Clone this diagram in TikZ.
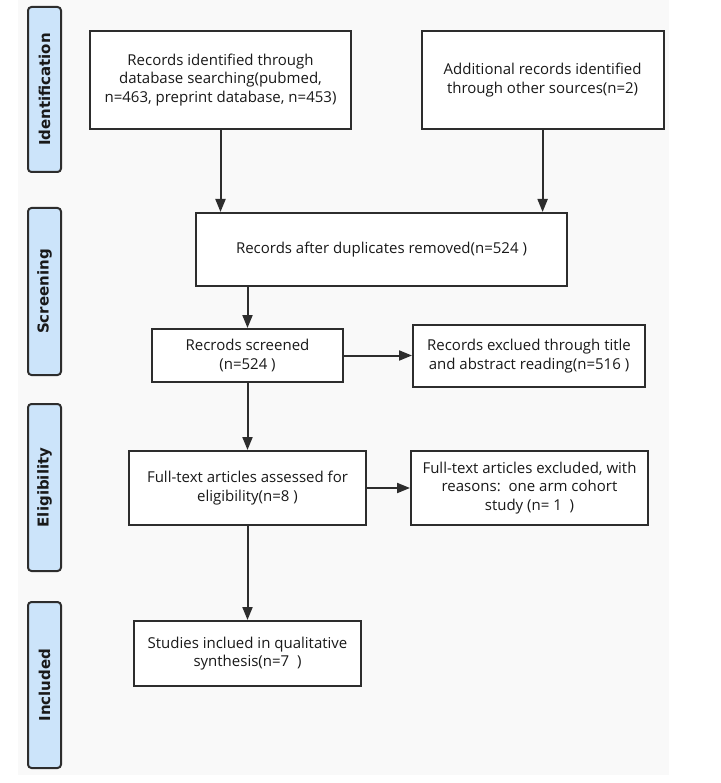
\documentclass[tikz,border=0pt]{standalone}
\usepackage{fontspec}
\setmainfont{Open Sans}
\newfontfamily\labfont{DejaVu Sans}
\usetikzlibrary{arrows.meta}
\definecolor{bg}{RGB}{249,249,249}
\definecolor{lc}{RGB}{45,45,45}
\definecolor{tc}{RGB}{25,25,25}
\definecolor{lab}{RGB}{204,228,250}
\begin{document}
\begin{tikzpicture}[x=1pt,y=-1pt,
 box/.style={draw=lc, line width=2pt, fill=white, align=center, font=\fontsize{15}{18.5}\selectfont, inner sep=0pt, text=tc},
 stage/.style={draw=lc, line width=2pt, fill=lab, rounded corners=3.5pt, minimum height=33pt, inner sep=0pt, rotate=90, font=\labfont\bfseries\fontsize{15}{17}\selectfont, text=black!90},
 arr/.style={draw=lc, line width=2pt, -{Triangle[length=13pt,width=10pt]}}]
\useasboundingbox (0,0) rectangle (720,783);
\fill[white] (0,0) rectangle (720,783);
\fill[bg] (18,0) rectangle (669,775);

\node[stage, minimum width=165pt] (s1) at (44.5,89.5) {Identification};
\node[stage, minimum width=167pt] (s2) at (44.5,291.5) {Screening};
\node[stage, minimum width=167pt] (s3) at (44.5,487.5) {Eligibility};
\node[stage, minimum width=166pt] (s4) at (44.5,685) {Included};

\node[box, minimum width=261pt, minimum height=98pt] (a) at (220.5,80) {Records identified through\\database searching(pubmed,\\n=463, preprint database, n=453)};
\node[box, minimum width=242pt, minimum height=98pt] (b) at (542.6,80) {Additional records identified\\through other sources(n=2)};
\node[box, minimum width=371pt, minimum height=73pt] (c) at (381.5,249.5) {Records after duplicates removed(n=524 )};
\node[box, minimum width=191pt, minimum height=53pt] (d) at (247.5,355.5) {Recrods screened\\(n=524 )};
\node[box, minimum width=232pt, minimum height=62pt] (e) at (529,356) {Records exclued through title\\and abstract reading(n=516 )};
\node[box, minimum width=237pt, minimum height=74pt] (f) at (247.5,488) {Full-text articles assessed for\\eligibility(n=8 )};
\node[box, minimum width=237pt, minimum height=74pt] (g) at (529.5,488) {Full-text articles excluded, with\\reasons:\ \ one arm cohort\\study (n= 1\ \ )};
\node[box, minimum width=227pt, minimum height=65pt] (h) at (247.5,653.5) {Studies inclued in qualitative\\synthesis(n=7\ \ )};

\draw[arr] (a.south) -- (c.north -| a.south);
\draw[arr] (b.south) -- (c.north -| b.south);
\draw[arr] (c.south -| d.north) -- (d.north);
\draw[arr] (d.east) -- (e.west |- d.east);
\draw[arr] (d.south) -- (f.north);
\draw[arr] (f.east) -- (g.west |- f.east);
\draw[arr] (f.south) -- (h.north);
\end{tikzpicture}
\end{document}
